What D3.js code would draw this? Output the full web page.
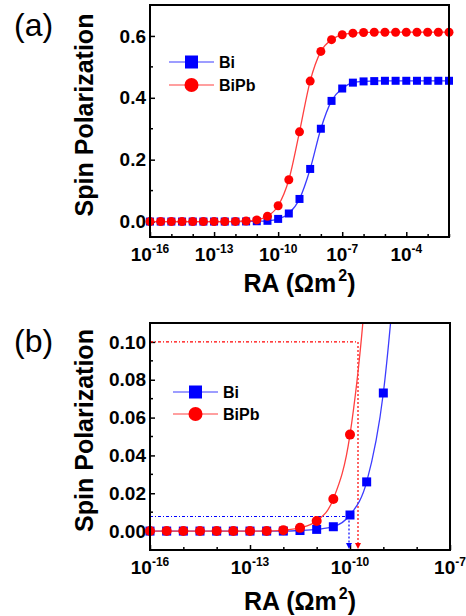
<!DOCTYPE html>
<html>
<head>
    <meta charset="utf-8">
    <script src="https://d3js.org/d3.v7.min.js"></script>
    <style>
        body { margin: 0; background: #fff; }
        text { font-family: "Liberation Sans", Arial, sans-serif; }
    </style>
</head>
<body>
    <svg width="466" height="616"></svg>
    <script>
        // exponents of RA (Ohm m^2), one point every half decade
        var logRA = [-16, -15.5, -15, -14.5, -14, -13.5, -13, -12.5, -12, -11.5, -11, -10.5, -10, -9.5, -9,
                     -8.5, -8, -7.5, -7, -6.5, -6, -5.5, -5, -4.5, -4, -3.5, -3, -2.5, -2]
        var bi   = [0, 0, 0, 0, 0, 0, 0, 0, 0, 0.0003, 0.0009, 0.0023, 0.0085, 0.026, 0.073,
                    0.17, 0.30, 0.39, 0.43, 0.449, 0.453, 0.454, 0.455, 0.455, 0.455, 0.455, 0.455, 0.455, 0.455]
        var bipb = [0, 0, 0, 0, 0, 0, 0, 0, 0.0005, 0.0017, 0.0053, 0.017, 0.051, 0.135, 0.29,
                    0.454, 0.55, 0.588, 0.604, 0.609, 0.611, 0.612, 0.612, 0.612, 0.612, 0.612, 0.612, 0.612, 0.612]
        var seriesNames = ["Bi", "BiPb"]
        var seriesColors = ["#0000ff", "#ff0000"]
        var lineColors = ["#3c3cff", "#ff4040"]

        // guide lines of panel (b): level and the RA where the curve reaches it
        var guideLevel = [0.0077, 0.10]
        var guideLogRA = [-10.03, -9.76]

        // tick labels
        var topXMajor = [-16, -13, -10, -7, -4]
        var topYMajor = [0, 0.2, 0.4, 0.6]
        var topYMinor = [0.1, 0.3, 0.5]
        var botXMajor = [-16, -13, -10, -7]
        var botYMajor = [0, 0.02, 0.04, 0.06, 0.08, 0.10]
        var botYMinor = [0.01, 0.03, 0.05, 0.07, 0.09]

        const svg = d3.select("svg")

        function drawPanel(p){
            var g = svg.append("g")
            var x = d3.scaleLog().domain([1e-16, p.xmax]).range([p.left, p.right])
            var y = d3.scaleLinear().domain(p.ydom).range([p.bottom, p.top])

            var clipId = "clip" + p.name
            svg.append("clipPath").attr("id", clipId)
                .append("rect")
                .attr("x", p.left).attr("y", p.top)
                .attr("width", p.right - p.left).attr("height", p.bottom - p.top)

            // x axis: ticks every decade, labels every third
            var decades = d3.range(-16, Math.log10(p.xmax) + 0.5, 1)
            var gx = g.append("g").attr("transform", "translate(0," + p.bottom + ")")
            gx.call(d3.axisBottom(x).tickValues(decades.map(d => Math.pow(10, d)))
                .tickSizeInner(-3).tickSizeOuter(0).tickFormat(() => ""))
            gx.selectAll(".tick line")
                .attr("y2", d => p.xMajor.indexOf(Math.round(Math.log10(d))) >= 0 ? -5 : -3)
                .attr("stroke-width", 1.5)
            gx.select(".domain").remove()
            p.xMajor.forEach(function(e){
                var t = g.append("text")
                    .attr("x", x(Math.pow(10, e)))
                    .attr("y", p.bottom + 24)
                    .attr("text-anchor", "middle")
                    .style("font-size", "19px").style("font-weight", "bold")
                t.append("tspan").text("10")
                t.append("tspan").attr("dy", -8).style("font-size", "12px").text(String(e))
            })

            // y axis
            var gy = g.append("g").attr("transform", "translate(" + p.left + ",0)")
            gy.call(d3.axisLeft(y).tickValues(p.yMajor).tickSizeInner(-5).tickSizeOuter(0)
                .tickPadding(4).tickFormat(d3.format(p.yfmt)))
            gy.select(".domain").remove()
            gy.selectAll(".tick line").attr("stroke-width", 1.5)
            gy.selectAll(".tick text")
                .style("font-size", "19px").style("font-weight", "bold")
                .style("font-family", "'Liberation Sans', Arial, sans-serif")
            g.append("g").selectAll("line").data(p.yMinor).enter().append("line")
                .attr("x1", p.left).attr("x2", p.left + 3)
                .attr("y1", d => y(d)).attr("y2", d => y(d))
                .attr("stroke", "#000").attr("stroke-width", 1.5)

            // guide lines (panel b)
            if(p.guides){
                guideLevel.forEach(function(lv, i){
                    var gxp = x(Math.pow(10, guideLogRA[i]))
                    g.append("line")
                        .attr("x1", p.left).attr("x2", gxp)
                        .attr("y1", y(lv)).attr("y2", y(lv))
                        .attr("stroke", seriesColors[i]).attr("stroke-width", 1.2)
                        .attr("stroke-dasharray", "3,2,1,2")
                    g.append("line")
                        .attr("x1", gxp).attr("x2", gxp)
                        .attr("y1", y(lv)).attr("y2", p.bottom - 5)
                        .attr("stroke", seriesColors[i]).attr("stroke-width", 1.2)
                        .attr("stroke-dasharray", "2,2")
                    g.append("path")
                        .attr("d", "M" + (gxp - 3) + "," + (p.bottom - 7) + "L" + (gxp + 3) + "," + (p.bottom - 7) + "L" + gxp + "," + (p.bottom - 1) + "Z")
                        .attr("fill", seriesColors[i])
                })
            }

            // data
            var data = [bi, bipb]
            data.forEach(function(vals, i){
                var pts = logRA.map((e, j) => [Math.pow(10, e), vals[j]])
                    .filter(d => d[0] <= p.xmax * 1.0001)
                var line = d3.line().x(d => x(d[0])).y(d => y(d[1])).curve(d3.curveMonotoneX)
                var sg = g.append("g").attr("clip-path", "url(#" + clipId + ")")
                sg.append("path").attr("d", line(pts))
                    .attr("fill", "none").attr("stroke", lineColors[i]).attr("stroke-width", 1.3)
                var inside = pts.filter(d => d[1] <= p.ydom[1])
                if(i == 0){
                    g.selectAll(".sq" + p.name).data(inside).enter().append("rect")
                        .attr("x", d => x(d[0]) - p.ms / 2).attr("y", d => y(d[1]) - p.ms / 2)
                        .attr("width", p.ms).attr("height", p.ms)
                        .attr("fill", seriesColors[i])
                } else {
                    g.selectAll(".ci" + p.name).data(inside).enter().append("circle")
                        .attr("cx", d => x(d[0])).attr("cy", d => y(d[1]))
                        .attr("r", p.ms / 2 + 0.5)
                        .attr("fill", seriesColors[i])
                }
            })

            // frame
            g.append("rect")
                .attr("x", p.left).attr("y", p.top)
                .attr("width", p.right - p.left).attr("height", p.bottom - p.top)
                .attr("fill", "none").attr("stroke", "#000").attr("stroke-width", 2)

            // legend
            seriesNames.forEach(function(nm, i){
                var ly = p.legY[i]
                g.append("line")
                    .attr("x1", p.legX).attr("x2", p.legX + 45)
                    .attr("y1", ly).attr("y2", ly)
                    .attr("stroke", lineColors[i]).attr("stroke-width", 1.2)
                if(i == 0){
                    g.append("rect").attr("x", p.legX + 22.5 - 6.5).attr("y", ly - 6.5)
                        .attr("width", 13).attr("height", 13).attr("fill", seriesColors[i])
                } else {
                    g.append("circle").attr("cx", p.legX + 22.5).attr("cy", ly).attr("r", 7)
                        .attr("fill", seriesColors[i])
                }
                g.append("text").attr("x", p.legX + 50).attr("y", ly + 6)
                    .style("font-size", "16px").style("font-weight", "bold")
                    .text(nm)
            })

            // titles
            g.append("text")
                .attr("transform", "translate(" + 93 + "," + ((p.top + p.bottom) / 2 - 6) + ") rotate(-90)")
                .attr("text-anchor", "middle")
                .style("font-size", "25px").style("font-weight", "bold")
                .text("Spin Polarization")
            var xt = g.append("text")
                .attr("x", (p.left + p.right) / 2).attr("y", p.bottom + p.titleGap)
                .attr("text-anchor", "middle")
                .style("font-size", "25px").style("font-weight", "bold")
            xt.append("tspan").text("RA (\u03A9m")
            xt.append("tspan").attr("dy", -11).attr("dx", 2).style("font-size", "16px").text("2")
            xt.append("tspan").attr("dy", 11).text(")")
            g.append("text")
                .attr("x", 14).attr("y", p.labelY)
                .style("font-size", "32px")
                .text(p.label)
        }

        drawPanel({name: "a", label: "(a)", left: 150, right: 449, top: 5, bottom: 237,
            xmax: 1e-2, ydom: [-0.05, 0.7], yfmt: ".1f", xMajor: topXMajor,
            yMajor: topYMajor, yMinor: topYMinor, ms: 8, guides: false,
            legX: 169, legY: [62, 85], titleGap: 55, labelY: 36})
        drawPanel({name: "b", label: "(b)", left: 150, right: 450, top: 323, bottom: 550,
            xmax: 1e-7, ydom: [-0.01, 0.11], yfmt: ".2f", xMajor: botXMajor,
            yMajor: botYMajor, yMinor: botYMinor, ms: 9, guides: true,
            legX: 173, legY: [392, 414], titleGap: 60, labelY: 352})
    </script>
</body>
</html>
